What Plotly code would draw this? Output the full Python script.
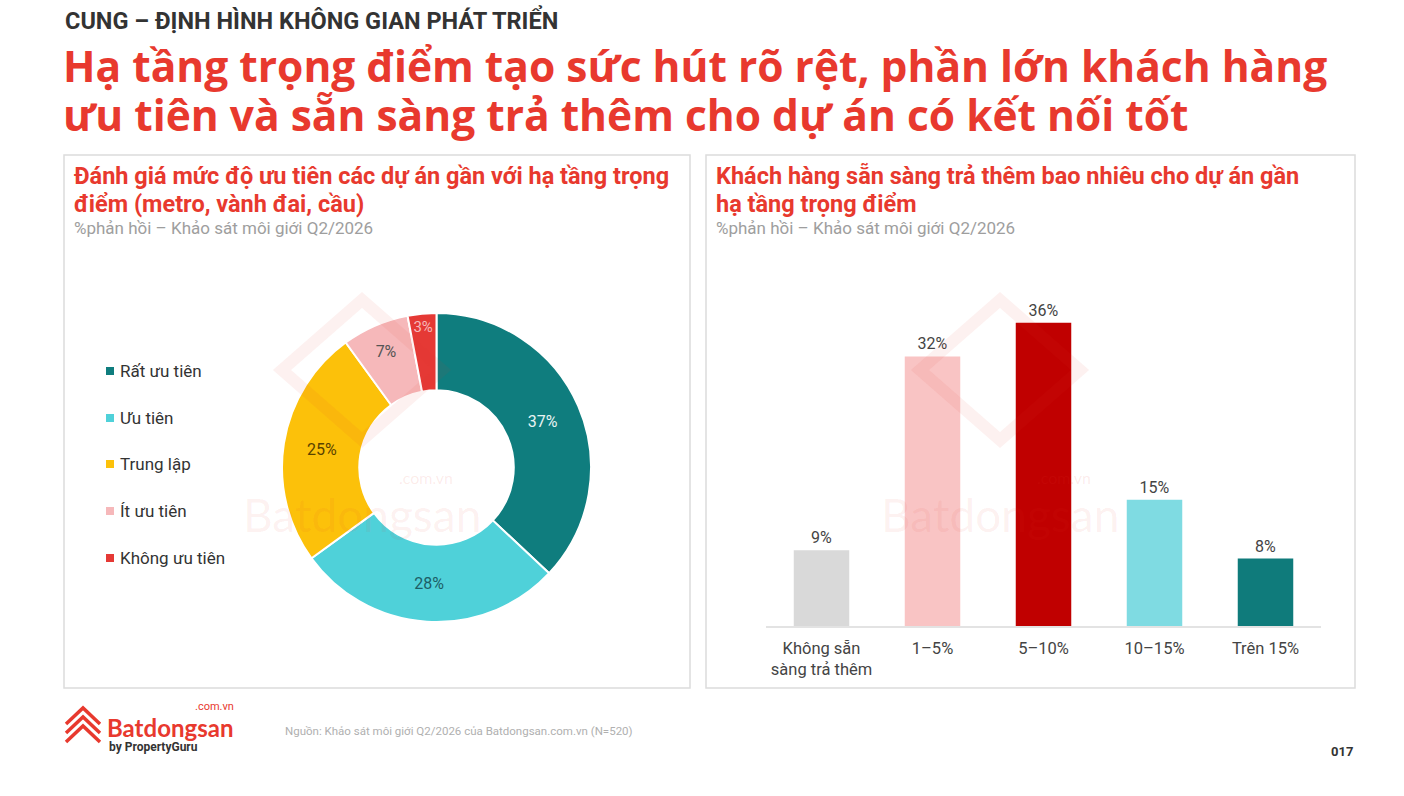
import plotly.graph_objects as go

W, H = 1404, 796

# ---- data ----
donut_labels = ["Rất ưu tiên", "Ưu tiên", "Trung lập", "Ít ưu tiên", "Không ưu tiên"]
donut_values = [37, 28, 25, 7, 3]
donut_colors = ["#0f7d7e", "#4fd1d9", "#fcc10a", "#f6b8ba", "#e53935"]
donut_textcolors = ["#e8f4f4", "#1d5e66", "#5a4300", "#555555", "#f6b8ba"]

bar_categories = ["Không sẵn<br>sàng trả thêm", "1–5%", "5–10%", "10–15%", "Trên 15%"]
bar_values = [9, 32, 36, 15, 8]
bar_colors = ["#d9d9d9", "#f9c4c4", "#c00000", "#7fdbe2", "#0f7b7b"]

RED = "#e8392e"


def px(x):
    return x / W


def py(y):
    return 1 - y / H


fig = go.Figure()

fig.add_trace(go.Pie(
    labels=donut_labels,
    values=donut_values,
    marker=dict(colors=donut_colors, line=dict(color="white", width=2)),
    hole=0.5,
    sort=False,
    direction="clockwise",
    rotation=0,
    text=[f"{v}%" for v in donut_values],
    textinfo="text",
    textposition="inside",
    insidetextorientation="horizontal",
    insidetextfont=dict(family="Roboto", size=16, color=donut_textcolors),
    domain=dict(x=[px(282), px(591)], y=[py(622), py(313)]),
    showlegend=False,
))

fig.add_trace(go.Bar(
    x=bar_categories,
    y=bar_values,
    marker=dict(color=bar_colors, line=dict(width=0)),
    width=0.5,
    text=[f"{v}%" for v in bar_values],
    textposition="outside",
    cliponaxis=False,
    textfont=dict(family="Roboto", size=16, color="#444444"),
    xaxis="x", yaxis="y",
    showlegend=False,
))

shapes = []
annotations = []


def ann(text, x, y, size, color, family="Roboto", xanchor="left"):
    annotations.append(dict(text=text, xref="paper", yref="paper", x=px(x), y=py(y),
                            xanchor=xanchor, yanchor="middle", showarrow=False, borderpad=0,
                            font=dict(family=family, size=size, color=color)))


# panel boxes
for x0, x1 in [(64, 690), (706, 1355)]:
    shapes.append(dict(type="rect", xref="paper", yref="paper",
                       x0=px(x0), x1=px(x1), y0=py(688), y1=py(155),
                       line=dict(color="#dcdcdc", width=1.5), fillcolor="rgba(0,0,0,0)", layer="below"))

# header
ann("<b>CUNG – ĐỊNH HÌNH KHÔNG GIAN PHÁT TRIỂN</b>", 64, 20, 23.5, "#333333")
ann("<b>Hạ tầng trọng điểm tạo sức hút rõ rệt, phần lớn khách hàng</b>", 62, 65, 42.5, RED, "Open Sans")
ann("<b>ưu tiên và sẵn sàng trả thêm cho dự án có kết nối tốt</b>", 62, 114, 42.5, RED, "Open Sans")

# panel titles
for x0, l1, l2 in [(73, "Đánh giá mức độ ưu tiên các dự án gần với hạ tầng trọng", "điểm (metro, vành đai, cầu)"),
                   (715, "Khách hàng sẵn sàng trả thêm bao nhiêu cho dự án gần", "hạ tầng trọng điểm")]:
    ann(f"<b>{l1}</b>", x0, 176, 23.5, RED)
    ann(f"<b>{l2}</b>", x0, 204, 23.5, RED)
    ann("%phản hồi – Khảo sát môi giới Q2/2026", x0, 228, 17, "#9e9e9e")

# watermarks
for cx in [362, 1000]:
    ann("Batdongsan", cx, 514, 46, "rgba(232,57,46,0.07)", "Lato", "center")
    ann(".com.vn", cx + 92, 477, 16, "rgba(232,57,46,0.10)", "Lato", "right")
    shapes.append(dict(type="path", xref="paper", yref="paper",
                       path=f"M {px(cx-80)},{py(370)} L {px(cx)},{py(300)} L {px(cx+80)},{py(370)} L {px(cx)},{py(440)} Z",
                       line=dict(color="rgba(232,57,46,0.07)", width=12), fillcolor="rgba(0,0,0,0)"))

# legend (manual)
legend_y = [371, 418, 464, 511, 558]
for lab, col, yy in zip(donut_labels, donut_colors, legend_y):
    shapes.append(dict(type="rect", xref="paper", yref="paper",
                       x0=px(106), x1=px(114), y0=py(yy + 4), y1=py(yy - 4),
                       fillcolor=col, line=dict(width=0)))
    ann(lab, 119, yy, 17, "#333333")

# footer logo
lx, ly = 66, 706
for k in range(3):
    off = k * 9
    shapes.append(dict(type="path", xref="paper", yref="paper",
                       path=(f"M {px(lx)},{py(ly+18+off)} L {px(lx+17)},{py(ly+2+off)} "
                             f"L {px(lx+34)},{py(ly+18+off)}"),
                       line=dict(color=RED, width=3.5), fillcolor="rgba(0,0,0,0)"))
ann("<b>Batdongsan</b>", 106, 727, 24, RED, "Lato")
ann(".com.vn", 235, 706, 11, RED, "Roboto", "right")
ann("<b>by PropertyGuru</b>", 108, 747, 12, "#333333")
ann("Nguồn: Khảo sát môi giới Q2/2026 của Batdongsan.com.vn (N=520)", 284, 731, 11.5, "#b0b0b0")
ann("<b>017</b>", 1354, 751, 13, "#333333", "Roboto", "right")

fig.update_layout(
    width=W, height=H,
    margin=dict(l=0, r=0, t=0, b=0),
    paper_bgcolor="white", plot_bgcolor="rgba(0,0,0,0)",
    shapes=shapes, annotations=annotations,
    xaxis=dict(domain=[px(766), px(1321)], showgrid=False, zeroline=False,
               showline=True, linecolor="#e3e3e3", linewidth=1.5, ticks="",
               ticklabelstandoff=6,
               tickfont=dict(family="Roboto", size=16.5, color="#444444"), fixedrange=True),
    yaxis=dict(domain=[py(626), py(289)], range=[0, 40], visible=False, fixedrange=True),
    font=dict(family="Roboto"),
)

fig.write_html("out.html")
